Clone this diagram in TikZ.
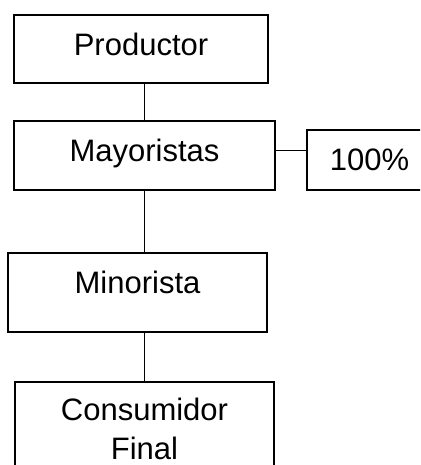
\documentclass[tikz,border=0pt]{standalone}
\usepackage{fontspec}
\newfontfamily\arial{Liberation Sans}
\newcommand\fuente{\arial\fontsize{31}{39}\selectfont}
\tikzset{
  caja/.style={draw,line width=2pt,font=\fuente,inner sep=0pt},
  conector/.style={line width=1.8pt}
}
\begin{document}
\begin{tikzpicture}[x=1pt,y=-1pt]
			\useasboundingbox (0,0) rectangle (420,465);
			\clip (0,0) rectangle (420,465);

			\node[caja,minimum width=254pt,minimum height=68pt,text height=22pt,text depth=8pt] (productor) at (141,49) {Productor};
			\node[caja,minimum width=261pt,minimum height=69pt,text height=22pt,text depth=11pt] (mayoristas) at (144.5,155.5) {Mayoristas};
			\node[caja,minimum width=125pt,minimum height=60pt,text height=22pt,text depth=0pt] (cien) at (369.5,160) {100\%};
			\node[caja,minimum width=259pt,minimum height=79pt,text height=22pt,text depth=21pt] (minorista) at (137.5,292.5) {Minorista};
			\node[caja,minimum width=259pt,inner ysep=16pt,align=center,anchor=north] (consumidor) at (144.5,381) {Consumidor\\Final};

			\draw[conector] (mayoristas.north) -- (mayoristas.north |- productor.south);
			\draw[conector] ([yshift=5pt]mayoristas.east) -- ([yshift=5pt]mayoristas.east -| cien.west);
			\draw[conector] (mayoristas.south) -- (mayoristas.south |- minorista.north);
			\draw[conector] (consumidor.north) -- (consumidor.north |- minorista.south);
\end{tikzpicture}
\end{document}
